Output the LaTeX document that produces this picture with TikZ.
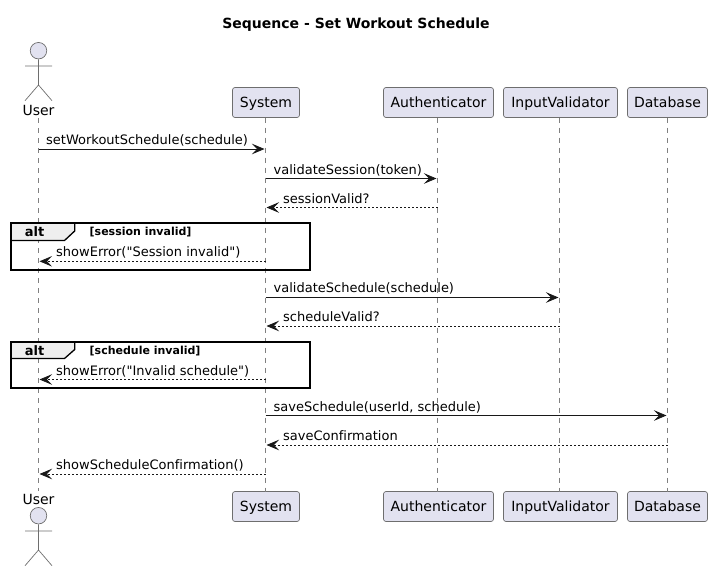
\documentclass[tikz,border=0pt]{standalone}
\usepackage{fontspec}
\setmainfont{DejaVu Sans}[Ligatures={TeXOff,CommonOff}]
\usetikzlibrary{arrows.meta}
\definecolor{pfill}{HTML}{E2E2F0}
\definecolor{pline}{HTML}{181818}
\definecolor{tabfill}{HTML}{EEEEEE}
\definecolor{actline}{HTML}{6E6E6E}
\definecolor{lifegray}{HTML}{808080}
\tikzset{
  participant/.style={draw=actline,fill=pfill,rounded corners=2.5pt,line width=0.7pt,minimum height=30pt,inner sep=0pt,text height=12pt,text depth=3pt,font=\fontsize{14}{16}\selectfont,text=black},
  lifeline/.style={draw=lifegray,line width=0.75pt,dash pattern=on 5pt off 5pt},
  actorpart/.style={draw=actline,line width=0.7pt},
  actorhead/.style={draw=actline,fill=pfill,line width=0.7pt,circle,minimum size=16.5pt,inner sep=0pt},
  actorname/.style={inner sep=0pt,anchor=base,font=\fontsize{14}{16}\selectfont,text=black},
  call/.style={draw=pline,line width=0.8pt,-{Stealth[length=12.5pt,width=10.5pt,inset=5pt,fill=pline]}},
  reply/.style={call,dash pattern=on 2pt off 2pt},
  msglabel/.style={inner sep=0pt,anchor=base west,font=\fontsize{13}{15}\selectfont,text=black},
  frame/.style={draw=black,line width=2pt},
  tabshape/.style={draw=black,line width=1.3pt,fill=tabfill},
  altname/.style={inner sep=0pt,anchor=base,font=\fontsize{13}{15}\selectfont\bfseries,text=black},
  guard/.style={inner sep=0pt,anchor=base west,font=\fontsize{11}{13}\selectfont\bfseries,text=black},
}
\begin{document}
\begin{tikzpicture}[x=1pt,y=-1pt]
\useasboundingbox (0,0) rectangle (712,571);
\node[inner sep=0pt,anchor=base,font=\fontsize{14}{16}\selectfont\bfseries] (title) at (356,28) {Sequence - Set Workout Schedule};
% top and bottom participants
\node[actorname] (utop) at (38.5,115) {User};
\node[actorname] (ubot) at (38.5,504) {User};
\node[participant,minimum width=67pt] (stop) at (266,102.5) {System};
\node[participant,minimum width=110pt] (atop) at (438.5,102.5) {Authenticator};
\node[participant,minimum width=114pt] (itop) at (560.5,102.5) {InputValidator};
\node[participant,minimum width=80pt] (dtop) at (667.5,102.5) {Database};
\node[participant,minimum width=67pt] (sbot) at (266,506.5) {System};
\node[participant,minimum width=110pt] (abot) at (438.5,506.5) {Authenticator};
\node[participant,minimum width=114pt] (ibot) at (560.5,506.5) {InputValidator};
\node[participant,minimum width=80pt] (dbot) at (667.5,506.5) {Database};
% lifelines
\coordinate (ul1) at (38.5,118); \coordinate (ul2) at (38.5,491);
\draw[lifeline] (ul1) -- (ul2);
\coordinate (sl1) at (265.5,117.5); \coordinate (sl2) at (265.5,491.5);
\draw[lifeline] (sl1) -- (sl2);
\coordinate (al1) at (437.5,117.5); \coordinate (al2) at (437.5,491.5);
\draw[lifeline] (al1) -- (al2);
\coordinate (il1) at (559.5,117.5); \coordinate (il2) at (559.5,491.5);
\draw[lifeline] (il1) -- (il2);
\coordinate (dl1) at (667.5,117.5); \coordinate (dl2) at (667.5,491.5);
\draw[lifeline] (dl1) -- (dl2);
% actors
\node[actorhead] (uhead1) at (38.5,50.7) {};
\coordinate (ub1) at (38.5,85); \coordinate (ua1) at (25,66); \coordinate (ua2) at (52,66);
\coordinate (ul1a) at (25,100.7); \coordinate (ul1b) at (52,100.7);
\draw[actorpart] (uhead1.south) -- (ub1) (ua1) -- (ua2) (ul1a) -- (ub1) -- (ul1b);
\node[actorhead] (uhead2) at (38.5,515.7) {};
\coordinate (ub2) at (38.5,550); \coordinate (ua3) at (25,531); \coordinate (ua4) at (52,531);
\coordinate (ul2a) at (25,565.7); \coordinate (ul2b) at (52,565.7);
\draw[actorpart] (uhead2.south) -- (ub2) (ua3) -- (ua4) (ul2a) -- (ub2) -- (ul2b);
% alt frames
\draw[tabshape] (11,223) -- (74.7,223) -- (74.7,231) -- (64.5,240.5) -- (11,240.5) -- cycle;
\draw[frame] (11,223) rectangle (310,269.5);
\node[altname] (alt1) at (34.5,236) {alt};
\node[guard] (g1) at (89.5,235) {[session invalid]};
\draw[tabshape] (11,342) -- (74.7,342) -- (74.7,349.5) -- (64.5,358.5) -- (11,358.5) -- cycle;
\draw[frame] (11,342) rectangle (310,387.5);
\node[altname] (alt2) at (34.5,355) {alt};
\node[guard] (g2) at (89.5,354) {[schedule invalid]};
% messages
\coordinate (m1a) at (38.5,149); \coordinate (m1b) at (264.5,149);
\draw[call] (m1a) -- (m1b);
\node[msglabel] (t1) at (46,144.5) {setWorkoutSchedule(schedule)};
\coordinate (m2a) at (265.5,178.5); \coordinate (m2b) at (436.5,178.5);
\draw[call] (m2a) -- (m2b);
\node[msglabel] (t2) at (273.5,174) {validateSession(token)};
\coordinate (m3a) at (437.5,207.5); \coordinate (m3b) at (266.5,207.5);
\draw[reply] (m3a) -- (m3b);
\node[msglabel] (t3) at (283,203) {sessionValid?};
\coordinate (m4a) at (265.5,261.3); \coordinate (m4b) at (39.5,261.3);
\draw[reply] (m4a) -- (m4b);
\node[msglabel] (t4) at (56,256.5) {showError("Session invalid")};
\coordinate (m5a) at (265.5,297.5); \coordinate (m5b) at (558.5,297.5);
\draw[call] (m5a) -- (m5b);
\node[msglabel] (t5) at (273.5,292.5) {validateSchedule(schedule)};
\coordinate (m6a) at (559.5,326); \coordinate (m6b) at (266.5,326);
\draw[reply] (m6a) -- (m6b);
\node[msglabel] (t6) at (283,321.5) {scheduleValid?};
\coordinate (m7a) at (265.5,379.5); \coordinate (m7b) at (39.5,379.5);
\draw[reply] (m7a) -- (m7b);
\node[msglabel] (t7) at (56,375) {showError("Invalid schedule")};
\coordinate (m8a) at (265.5,415.5); \coordinate (m8b) at (666.5,415.5);
\draw[call] (m8a) -- (m8b);
\node[msglabel] (t8) at (273.5,411) {saveSchedule(userId, schedule)};
\coordinate (m9a) at (667.5,445); \coordinate (m9b) at (266.5,445);
\draw[reply] (m9a) -- (m9b);
\node[msglabel] (t9) at (283,440.5) {saveConfirmation};
\coordinate (m10a) at (265.5,474); \coordinate (m10b) at (39.5,474);
\draw[reply] (m10a) -- (m10b);
\node[msglabel] (t10) at (56,469.5) {showScheduleConfirmation()};
\end{tikzpicture}
\end{document}
